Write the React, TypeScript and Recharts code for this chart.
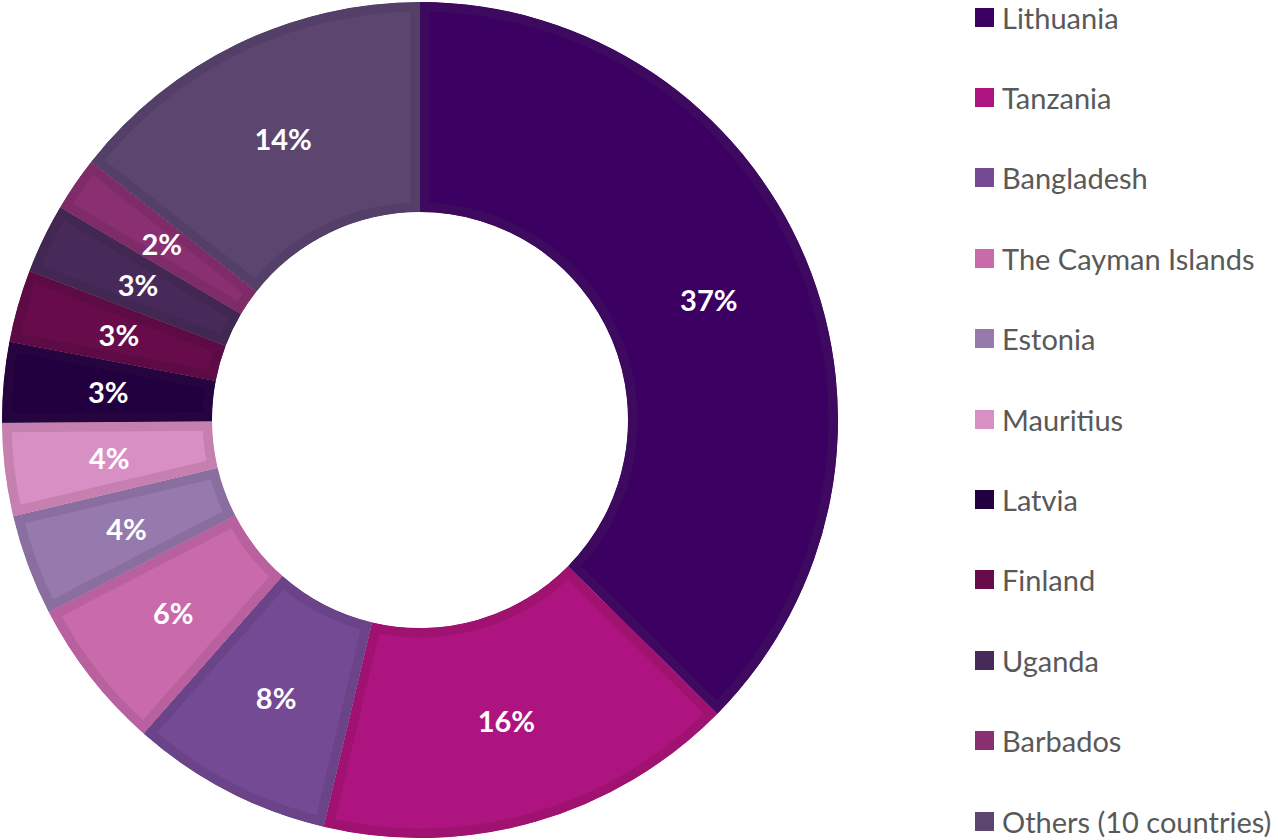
import React from "react";
import { Cell, Legend, Pie, PieChart, Sector } from "recharts";

const COUNTRIES = [
  "Lithuania",
  "Tanzania",
  "Bangladesh",
  "The Cayman Islands",
  "Estonia",
  "Mauritius",
  "Latvia",
  "Finland",
  "Uganda",
  "Barbados",
  "Others (10 countries)",
];

// share of total, in percent
const SHARES = [37.4, 16.3, 7.8, 5.9, 3.9, 3.6, 3.1, 2.8, 2.7, 2.1, 14.4];

const FILLS = [
  "#3b0061",
  "#ae1480",
  "#744a94",
  "#c96aab",
  "#9679ad",
  "#d88fc4",
  "#22003f",
  "#670b4b",
  "#482a5a",
  "#8b2f73",
  "#5c466f",
];

const BORDERS = [
  "#3d0a5f",
  "#a0126f",
  "#6a4388",
  "#b9609e",
  "#8a6ea0",
  "#c580b0",
  "#26043f",
  "#5d0b44",
  "#412752",
  "#7e2b68",
  "#533f67",
];

const FONT = "Lato, 'Open Sans', sans-serif";
const RADIAN = Math.PI / 180;

const data = COUNTRIES.map((name, i) => ({ name, value: SHARES[i] }));

// sector with a border drawn on the inside only
function InsetSector(props: any) {
  const { cx, cy, innerRadius, outerRadius, startAngle, endAngle, fill, index } = props;
  const id = `slice-clip-${index ?? Math.round(startAngle * 100)}`;
  const geom = { cx, cy, innerRadius, outerRadius, startAngle, endAngle };
  const border = BORDERS[COUNTRIES.indexOf(props.name)] ?? fill;
  return (
    <g>
      <defs>
        <clipPath id={id}>
          <Sector {...geom} />
        </clipPath>
      </defs>
      <Sector
        {...geom}
        fill={fill}
        stroke={border}
        strokeWidth={19}
        clipPath={`url(#${id})`}
      />
    </g>
  );
}

function renderLabel(props: any) {
  const { cx, cy, midAngle, innerRadius, outerRadius, percent } = props;
  const r = (innerRadius + outerRadius) / 2;
  const x = cx + r * Math.cos(-midAngle * RADIAN);
  const y = cy + r * Math.sin(-midAngle * RADIAN);
  return (
    <text
      x={x}
      y={y}
      fill="#ffffff"
      textAnchor="middle"
      dominantBaseline="central"
      fontFamily={FONT}
      fontWeight={700}
      fontSize={29}
    >
      {`${Math.round(percent * 100)}%`}
    </text>
  );
}

function LegendList() {
  return (
    <div style={{ fontFamily: FONT }}>
      {COUNTRIES.map((name, i) => (
        <div
          key={name}
          style={{
            height: 80.4,
            display: "flex",
            alignItems: "center",
            marginTop: i === 0 ? -23 : 0,
          }}
        >
          <span
            style={{
              width: 19,
              height: 19,
              background: FILLS[i],
              display: "inline-block",
              marginRight: 8,
            }}
          />
          <span style={{ fontSize: 29, color: "#595959", whiteSpace: "nowrap" }}>{name}</span>
        </div>
      ))}
    </div>
  );
}

export default function App() {
  return (
    <div style={{ position: "absolute", left: 0, top: 0, background: "#fff" }}>
      <PieChart width={1278} height={840} margin={{ top: 0, right: 0, bottom: 0, left: 0 }}>
        <Pie
          data={data}
          dataKey="value"
          nameKey="name"
          cx={420}
          cy={420}
          innerRadius={208}
          outerRadius={418}
          startAngle={90}
          endAngle={-270}
          stroke="none"
          labelLine={false}
          label={renderLabel}
          shape={InsetSector}
          isAnimationActive={false}
        >
          {data.map((d, i) => (
            <Cell key={d.name} fill={FILLS[i]} />
          ))}
        </Pie>
        <Legend
          content={() => <LegendList />}
          wrapperStyle={{ position: "absolute", left: 975, top: 0, width: 303 }}
        />
      </PieChart>
    </div>
  );
}
